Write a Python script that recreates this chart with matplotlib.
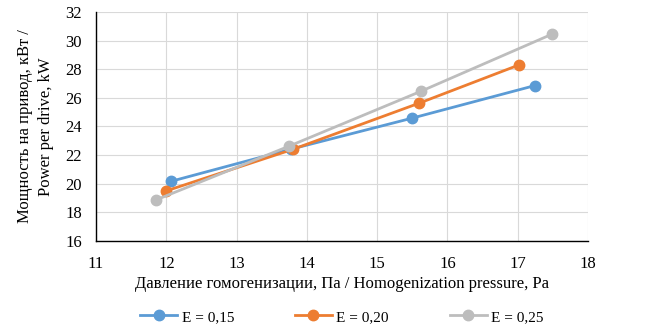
import matplotlib.pyplot as plt

plt.rcParams['font.family'] = ['Liberation Serif', 'DejaVu Serif']

# Данные
x_015 = [12.07, 13.78, 15.49, 17.24]
y_015 = [20.17, 22.42, 24.57, 26.85]
x_020 = [12.0, 13.8, 15.6, 17.02]
y_020 = [19.5, 22.4, 25.63, 28.3]
x_025 = [11.86, 13.75, 15.62, 17.49]
y_025 = [18.88, 22.63, 26.45, 30.45]

labels = ['E = 0,15', 'E = 0,20', 'E = 0,25']
colors = ['#5B9BD5', '#ED7D31', '#BDBDBD']

fig = plt.figure(figsize=(6.65, 3.31), dpi=100)
ax = fig.add_axes([0.1444, 0.272, 0.7398, 0.692])

for xs, ys, lab, c in zip([x_015, x_020, x_025], [y_015, y_020, y_025], labels, colors):
    ax.plot(xs, ys, color=c, lw=2, marker='o', ms=7.5, label=lab)

ax.set_xlim(11, 18)
ax.set_ylim(16, 32)
ax.set_xticks(range(11, 19))
ax.set_yticks(range(16, 33, 2))
ax.grid(True, color='#d9d9d9', lw=0.8)
ax.set_axisbelow(True)
for s in ['top', 'right']:
    ax.spines[s].set_visible(False)
for s in ['left', 'bottom']:
    ax.spines[s].set_color('black')
    ax.spines[s].set_linewidth(1)
ax.tick_params(length=0, labelsize=12)
ax.tick_params(axis='y', pad=10)
ax.tick_params(axis='x', pad=11)

ax.set_xlabel('Давление гомогенизации, Па / Homogenization pressure, Pa', fontsize=12, labelpad=3)
ax.set_ylabel('Мощность на привод, кВт /\nPower per drive, kW', fontsize=12, labelpad=8,
              linespacing=1.4)

ax.legend(loc='upper center', bbox_to_anchor=(0.5, -0.275), ncol=3, frameon=False,
          fontsize=11, columnspacing=4.0, handlelength=2.4, handletextpad=0.3,
          borderaxespad=0)

fig.savefig('out.png', dpi=100)
